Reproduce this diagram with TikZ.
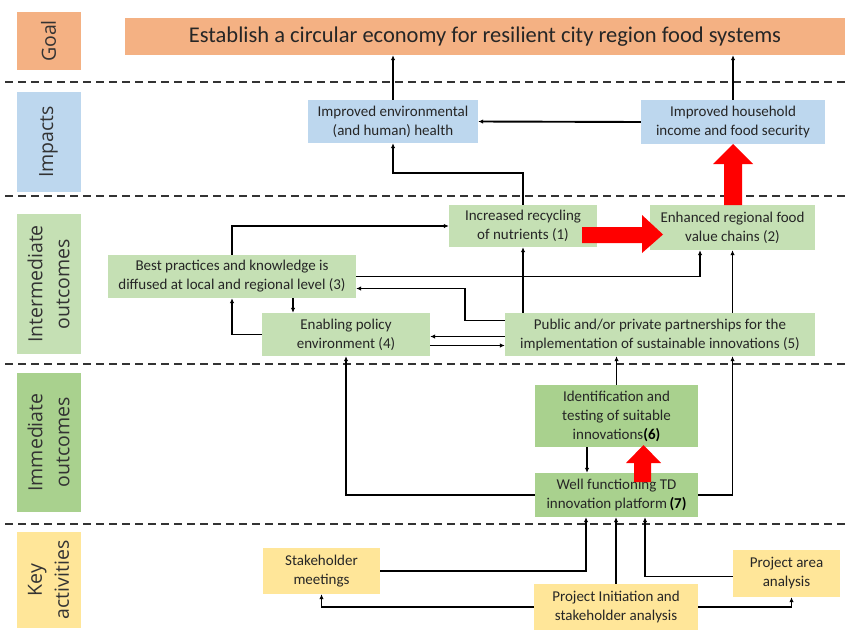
\documentclass[tikz,border=0pt]{standalone}
\usepackage{fontspec}
\setmainfont{Carlito}
\newfontfamily\labfont{Open Sans}
\usetikzlibrary{arrows.meta,calc}
\definecolor{goalc}{HTML}{F4B183}
\definecolor{impc}{HTML}{BDD7EE}
\definecolor{intc}{HTML}{C5E0B4}
\definecolor{immc}{HTML}{A9D18E}
\definecolor{keyc}{HTML}{FFE699}
\begin{document}
\begin{tikzpicture}[x=1pt,y=-1pt,
  box/.style={inner sep=0pt,align=center,font=\fontsize{15}{19}\selectfont,text=black!85},
  lab/.style={inner sep=0pt,minimum height=64pt,rotate=90,align=center,font=\labfont\fontsize{19.5}{27}\selectfont,text=black!80},
  arr/.style={line width=1.9pt,-{Latex[length=5pt,width=4.5pt]}},
  sep/.style={line width=2.2pt,dash pattern=on 8pt off 5pt,black!80}]
\useasboundingbox (0,0) rectangle (845,632);
\fill[white] (0,0) rectangle (845,632);
% separators
\foreach \yy in {82,196,364,524}{\draw[sep] (5,\yy) -- (845,\yy);}
% left labels
\node[lab,fill=goalc,minimum width=58pt] (lgoal) at (48.5,41) {Goal};
\node[lab,fill=impc,minimum width=100pt] (limp) at (48.5,142) {Impacts};
\node[lab,fill=intc,minimum width=140pt] (lint) at (48.5,284) {Intermediate\\outcomes};
\node[lab,fill=immc,minimum width=139pt] (limm) at (48.5,442.5) {Immediate\\outcomes};
\node[lab,fill=keyc,minimum width=96pt] (lkey) at (48.5,580) {Key\\activities};
% goal
\node[box,fill=goalc,minimum width=720pt,minimum height=37pt,font=\fontsize{22.5}{26}\selectfont] (goal) at (485,36.5) {Establish a circular economy for resilient city region food systems};
% impacts
\node[box,fill=impc,minimum width=170pt,minimum height=43pt] (env) at (393,121.5) {Improved environmental\\(and human) health};
\node[box,fill=impc,minimum width=184pt,minimum height=44pt] (house) at (733,122) {Improved household\\income and food security};
% intermediate
\node[box,fill=intc,minimum width=148pt,minimum height=42pt] (rec) at (523,226) {Increased recycling\\of nutrients (1)};
\node[box,fill=intc,minimum width=165pt,minimum height=45pt] (val) at (732.5,227.5) {Enhanced regional food\\value chains (2)};
\node[box,fill=intc,minimum width=248pt,minimum height=43pt] (best) at (232,276.5) {Best practices and knowledge is\\diffused at local and regional level (3)};
\node[box,fill=intc,minimum width=168pt,minimum height=43pt] (pol) at (346,334.5) {Enabling policy\\environment (4)};
\node[box,fill=intc,minimum width=310pt,minimum height=43pt] (part) at (660,334.5) {Public and/or private partnerships for the\\implementation of sustainable innovations (5)};
% immediate
\node[box,fill=immc,minimum width=163pt,minimum height=62pt] (ident) at (616.5,416) {Identification and\\testing of suitable\\innovations\textbf{\textcolor{black}{(6)}}};
\node[box,fill=immc,minimum width=163pt,minimum height=44pt] (plat) at (616.5,495) {Well functioning TD\\innovation platform\,\textbf{\textcolor{black}{(7)}}};
% key activities
\node[box,fill=keyc,minimum width=117pt,minimum height=46pt] (meet) at (321.5,571) {Stakeholder\\meetings};
\node[box,fill=keyc,minimum width=164pt,minimum height=46pt] (init) at (616,607) {Project Initiation and\\stakeholder analysis};
\node[box,fill=keyc,minimum width=107pt,minimum height=47pt] (area) at (786.5,573.5) {Project area\\analysis};
% connectors
\draw[arr] (env.north) -- (env.north |- goal.south);
\draw[arr] (house.north) -- (house.north |- goal.south);
\draw[arr] (house.west) -- (env.east);
\draw[arr] (rec.north) -- ++(0,-32) -| (env.south);
\draw[arr] (best.north) |- (rec.west);
\draw[arr] (best.east) -| ([xshift=-32.5pt]val.south);
\draw[arr] ([yshift=14pt]part.west) -- ++(-40,0) |- ([yshift=-12pt]best.east);
\draw[arr] (part.north -| rec.south) -- (rec.south);
\draw[arr] (part.north -| val.south) -- (val.south);
\draw[arr] ([xshift=-53pt]pol.north |- best.south) -- ([xshift=-53pt]pol.north);
\draw[arr] (pol.west) -| (best.south);
\draw[arr] ([yshift=-2pt]part.west) -- ([yshift=-2pt]pol.east);
\draw[arr] ([yshift=-11pt]pol.east) -- ([yshift=-11pt]part.west);
\draw[arr] (plat.west) -| (pol.south);
\draw[arr] (plat.east) -| (val.south |- part.south);
\draw[arr] (ident.north) -- (ident.north |- part.south);
\draw[arr] ([xshift=-29.5pt]ident.south) -- ([xshift=-29.5pt]plat.north);
\draw[arr] (meet.east) -| ([xshift=-30.5pt]plat.south);
\draw[arr] (init.north) -- (init.north |- plat.south);
\draw[arr] ([yshift=-3pt]area.west) -| ([xshift=28.5pt]plat.south);
\draw[arr] (init.west) -| (meet.south);
\draw[arr] (init.east) -| ([xshift=5pt]area.south);
% red block arrows
\fill[red] (724,205) -- (724,164) -- (713,164) -- (733,144) -- (753,164) -- (742,164) -- (742,205) -- cycle;
\fill[red] (582,227) -- (642,227) -- (642,215) -- (663,234.5) -- (642,253) -- (642,243) -- (582,243) -- cycle;
\fill[red] (634,482) -- (634,463) -- (626,463) -- (643.5,445) -- (661,463) -- (651,463) -- (651,482) -- cycle;
\end{tikzpicture}
\end{document}
